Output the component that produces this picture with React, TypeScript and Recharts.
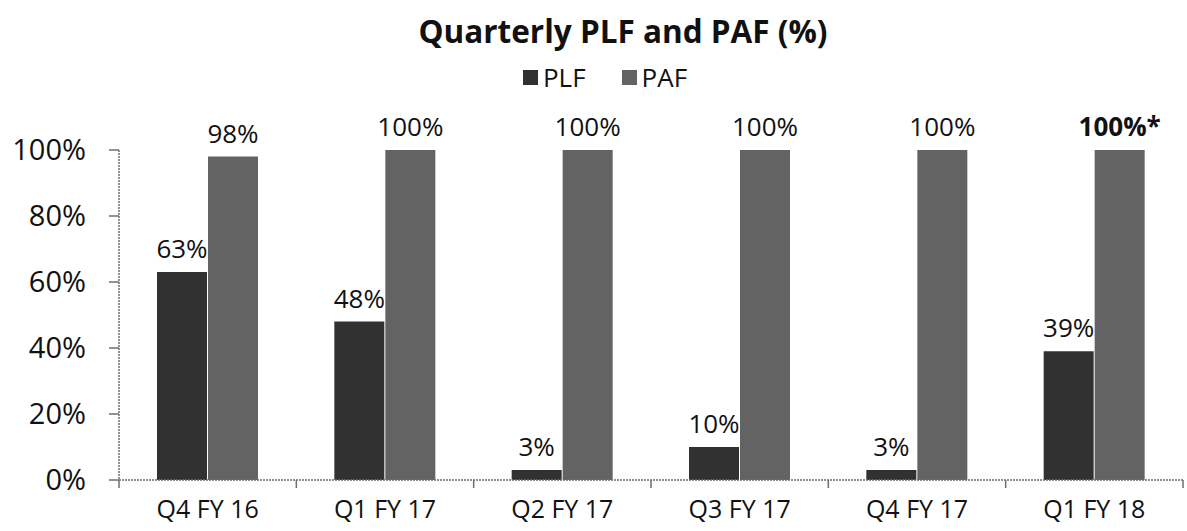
import { BarChart, Bar, XAxis, YAxis, LabelList } from "recharts";

const quarters = ["Q4 FY 16", "Q1 FY 17", "Q2 FY 17", "Q3 FY 17", "Q4 FY 17", "Q1 FY 18"];
const plf = [63, 48, 3, 10, 3, 39];
const paf = [98, 100, 100, 100, 100, 100];
const pafNotes = ["", "", "", "", "", "*"];
const yTicks = [0, 20, 40, 60, 80, 100];
const boundaryTicks = [0, 1, 2, 3, 4, 5, 6];

const PLF_COLOR = "#313131";
const PAF_COLOR = "#636363";
const AXIS_COLOR = "#6e6e6e";
const FONT = "'Open Sans', sans-serif";

const data = quarters.map((q, i) => ({
  quarter: q,
  pos: i + 0.5,
  plf: plf[i],
  paf: paf[i],
  pafLabel: `${paf[i]}%${pafNotes[i]}`,
}));

function PafLabel(props: any) {
  const { x, y, width, value } = props;
  const bold = String(value).endsWith("*");
  return (
    <text x={x + width / 2} y={y - 14} textAnchor="middle" fontSize={26}
      fontWeight={bold ? 700 : 400} fill="#111" fontFamily={FONT}>
      {value}
    </text>
  );
}

// tick marks between categories, drawn as plain lines (no text)
function BoundaryTick(props: any) {
  const { x, y } = props;
  return <line x1={x} x2={x} y1={y} y2={y + 8} stroke={AXIS_COLOR} strokeWidth={1.5} />;
}

export default function App() {
  return (
    <div style={{ position: "absolute", left: 0, top: 0, width: 1187, height: 531, background: "#fff", fontFamily: FONT }}>
      <div style={{ position: "absolute", left: 0, width: 1246, top: 9, textAlign: "center",
                    fontSize: 31.5, fontWeight: 700, color: "#111", lineHeight: "44px" }}>
        Quarterly PLF and PAF (%)
      </div>
      <div style={{ position: "absolute", left: 0, width: 1210, top: 59, display: "flex",
                    justifyContent: "center", alignItems: "center", gap: 36, fontSize: 26, color: "#111" }}>
        {[["PLF", PLF_COLOR], ["PAF", PAF_COLOR]].map(([n, c]) => (
          <span key={n} style={{ display: "flex", alignItems: "center", gap: 5 }}>
            <span style={{ width: 15, height: 15, background: c, display: "inline-block" }} />
            {n}
          </span>
        ))}
      </div>
      <BarChart width={1187} height={531} data={data} barGap={1} barSize={50}
        margin={{ top: 150, right: 4, bottom: 0, left: 0 }}>
        <XAxis xAxisId="a" dataKey="pos" type="number" domain={[0, 6]} ticks={boundaryTicks}
          allowDataOverflow height={1} tickSize={0} tickMargin={0} tickLine={false}
          axisLine={{ stroke: AXIS_COLOR, strokeWidth: 1.5, strokeDasharray: "2 1" }}
          tick={BoundaryTick} />
        <XAxis xAxisId="b" dataKey="quarter" height={50} tickSize={0} tickMargin={19}
          axisLine={false} tickLine={false}
          tick={{ fontSize: 25, fill: "#111", fontFamily: FONT }} />
        <YAxis domain={[0, 100]} ticks={yTicks} width={119} tickSize={10} tickMargin={23}
          tickFormatter={(v) => `${v}%`}
          axisLine={{ stroke: AXIS_COLOR, strokeWidth: 1.5, strokeDasharray: "2 1" }}
          tickLine={{ stroke: AXIS_COLOR, strokeWidth: 1.5 }}
          tick={{ fontSize: 29, fill: "#111", fontFamily: FONT }} />
        <Bar xAxisId="b" dataKey="plf" name="PLF" fill={PLF_COLOR} isAnimationActive={false}>
          <LabelList dataKey="plf" position="top" offset={14} formatter={(v: any) => `${v}%`}
            style={{ fontSize: 26, fill: "#111", fontFamily: FONT }} />
        </Bar>
        <Bar xAxisId="b" dataKey="paf" name="PAF" fill={PAF_COLOR} isAnimationActive={false}>
          <LabelList dataKey="pafLabel" content={PafLabel} />
        </Bar>
      </BarChart>
    </div>
  );
}
